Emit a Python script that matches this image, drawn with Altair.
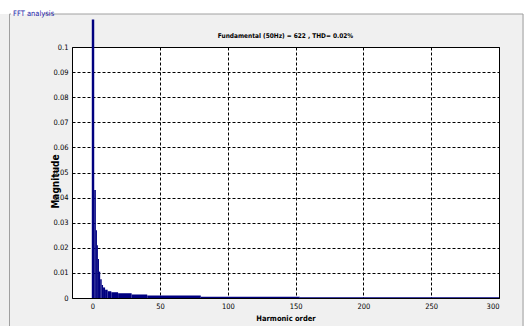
import altair as alt
import pandas as pd

# Harmonic-order bins (left / right edge) and magnitudes
order_lo = [-0.4, 1.4, 2.6, 3.4, 4.1, 4.9, 5.8, 6.9, 7.9, 9.4, 11.3, 14, 19, 29, 40.5, 80, 153]
order_hi = [1.4, 2.6, 3.4, 4.1, 4.9, 5.8, 6.9, 7.9, 9.4, 11.3, 14, 19, 29, 40.5, 80, 153, 300]
magnitude = [0.111, 0.043, 0.027, 0.021, 0.0155, 0.0105, 0.0075, 0.0052, 0.0042,
             0.0033, 0.0027, 0.0023, 0.0019, 0.0014, 0.0010, 0.0005, 0.0003]

x_ticks = [0, 50, 100, 150, 200, 250, 300]
y_ticks = [0, 0.01, 0.02, 0.03, 0.04, 0.05, 0.06, 0.07, 0.08, 0.09, 0.1]

title_text = "Fundamental (50Hz) = 622 , THD= 0.02%"
panel_label = "FFT analysis"

NARROW = "Liberation Sans Narrow, DejaVu Sans Condensed, Arial Narrow, sans-serif"

df = pd.DataFrame({"lo": order_lo, "hi": order_hi, "mag": magnitude})
one = pd.DataFrame({"k": [0]})

xscale = alt.Scale(domain=[-15, 300], nice=False)
yscale = alt.Scale(domain=[0, 0.1], nice=False)

bars = alt.Chart(df).mark_rect(color="#000080").encode(
    x=alt.X("lo:Q", scale=xscale,
            axis=alt.Axis(values=x_ticks, title="Harmonic order", format="d")),
    x2="hi:Q",
    y=alt.Y("mag:Q", scale=yscale,
            axis=alt.Axis(values=y_ticks, title="Magnitude",
                          labelExpr="datum.value == 0 ? '0' : format(datum.value, '.2~f')",
                          titleX=-17, titleY=134, titleAngle=-90,
                          titleAlign="center", titleBaseline="middle")),
    y2=alt.datum(0),
)

# panel decorations (group box of the GUI)
top_strip = alt.Chart(one).mark_rect(color="white").encode(
    x=alt.value(-72), x2=alt.value(452), y=alt.value(-47), y2=alt.value(-33))
line_top1 = alt.Chart(one).mark_rule(color="#a0a0a0", strokeWidth=1).encode(
    x=alt.value(-62.5), x2=alt.value(-61), y=alt.value(-33))
line_top2 = alt.Chart(one).mark_rule(color="#a0a0a0", strokeWidth=1).encode(
    x=alt.value(-28), x2=alt.value(451), y=alt.value(-33))
line_left = alt.Chart(one).mark_rule(color="#a0a0a0", strokeWidth=1).encode(
    x=alt.value(-62.5), y=alt.value(-33), y2=alt.value(279))
line_right = alt.Chart(one).mark_rule(color="#a0a0a0", strokeWidth=1).encode(
    x=alt.value(451), y=alt.value(-33), y2=alt.value(279))
label = alt.Chart(one).mark_text(
    text=panel_label, font=NARROW, fontSize=7.5, color="#2424a8",
    align="left", baseline="middle").encode(x=alt.value(-59), y=alt.value(-33))

chart = alt.layer(
    top_strip, line_top1, line_top2, line_left, line_right, label, bars
).properties(
    width=427, height=251,
    title=alt.TitleParams(title_text, font=NARROW, fontSize=6.5, fontWeight="bold",
                          color="black", anchor="middle", offset=6, dy=45),
    autosize=alt.AutoSizeParams(type="none"),
    padding={"left": 72, "top": 47, "right": 25, "bottom": 28},
).configure(
    background="#f0f0f0",
).configure_view(
    fill="white", stroke="black", strokeWidth=1,
).configure_axis(
    grid=True, gridColor="black", gridDash=[3, 2], gridOpacity=1, gridWidth=1,
    ticks=False, domain=False,
    labelFont=NARROW, labelFontSize=7.5, labelColor="black", labelPadding=4,
    titleFont=NARROW, titleFontSize=7.5, titleFontWeight="bold", titleColor="black",
    titlePadding=5,
).configure_axisY(
    titleFontSize=10,
)

chart.save("out.html", embed_options={"renderer": "svg", "actions": False})
